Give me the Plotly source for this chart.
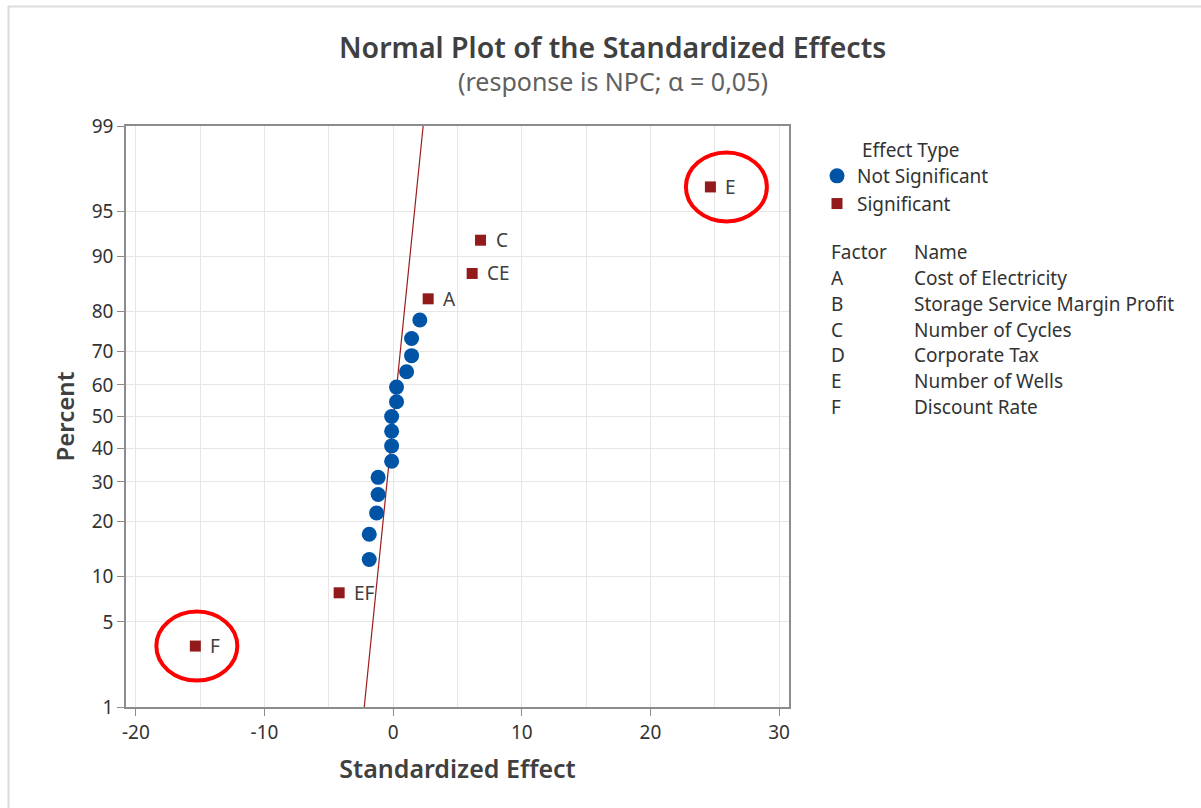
import plotly.graph_objects as go
from statistics import NormalDist

# ---- data ----
ns_effect = [-1.86, -1.86, -1.29, -1.17, -1.17, -0.12, -0.12, -0.12, -0.12,
             0.26, 0.26, 1.04, 1.43, 1.43, 2.07]
ns_percent = [12.6, 17.3, 22.0, 26.6, 31.3, 36.0, 40.7, 45.3, 50.0,
              54.7, 59.3, 64.0, 68.7, 73.4, 78.0]

sig_label = ["F", "EF", "A", "CE", "C", "E"]
sig_effect = [-15.38, -4.20, 2.72, 6.14, 6.79, 24.66]
sig_percent = [3.3, 7.9, 82.7, 87.4, 92.1, 96.7]

fit_effect = [-2.25, 2.33]
fit_percent = [1, 99]

y_ticks = [1, 5, 10, 20, 30, 40, 50, 60, 70, 80, 90, 95, 99]
x_ticks = [-20, -10, 0, 10, 20, 30]

factor_codes = ["A", "B", "C", "D", "E", "F"]
factor_names = ["Cost of Electricity", "Storage Service Margin Profit",
                "Number of Cycles", "Corporate Tax", "Number of Wells",
                "Discount Rate"]
circled = ["F", "E"]

nd = NormalDist()
def z(p):
    return nd.inv_cdf(p / 100.0)

FONT = "Noto Sans"
BLUE = "#0054a6"
RED = "#931a1a"
TXT = "#333333"
FS = 19

fig = go.Figure()
fig.add_trace(go.Scatter(
    x=fit_effect, y=[z(p) for p in fit_percent], mode="lines",
    line=dict(color="#9b1c1c", width=1.2), showlegend=False, hoverinfo="skip"))
fig.add_trace(go.Scatter(
    x=ns_effect, y=[z(p) for p in ns_percent], mode="markers",
    marker=dict(symbol="circle", size=15, color=BLUE),
    name="Not Significant", legendgroup="a"))
fig.add_trace(go.Scatter(
    x=sig_effect, y=[z(p) for p in sig_percent], mode="markers",
    marker=dict(symbol="square", size=11, color=RED),
    name="Significant", legendgroup="b"))

annotations = []
for lab, xv, pv in zip(sig_label, sig_effect, sig_percent):
    annotations.append(dict(x=xv, y=z(pv), xref="x", yref="y", text=lab,
                            showarrow=False, xanchor="left", yanchor="middle",
                            xshift=13, font=dict(family=FONT, size=FS, color="#404040")))

shapes = []
for lab in circled:
    i = sig_label.index(lab)
    xv, yv = sig_effect[i], z(sig_percent[i])
    dx = 16 if lab == "E" else 1.5
    shapes.append(dict(type="circle", xref="x", yref="y", xsizemode="pixel",
                       ysizemode="pixel", xanchor=xv, yanchor=yv,
                       x0=dx - 40.5, x1=dx + 40.5, y0=-34.5, y1=34.5,
                       line=dict(color="#ff0000", width=4)))

# pixel helpers for paper-positioned text
L, R, T, B = 126, 412, 126, 101
W, H = 1201, 808
pw, ph = W - L - R, H - T - B
def px(x):
    return (x - L) / pw
def py(y):
    return (H - B - y) / ph

annotations.append(dict(x=px(612), y=py(47), xref="paper", yref="paper",
                        text="Normal Plot of the Standardized Effects", showarrow=False,
                        xanchor="center", yanchor="middle",
                        font=dict(family=FONT, size=28.5, weight=600, color="#404040")))
annotations.append(dict(x=px(613), y=py(81), xref="paper", yref="paper",
                        text="(response is NPC; α = 0,05)", showarrow=False,
                        xanchor="center", yanchor="middle",
                        font=dict(family=FONT, size=25, color="#606060")))
annotations.append(dict(x=px(860), y=py(150), xref="paper", yref="paper",
                        text="Effect Type", showarrow=False, xanchor="left",
                        yanchor="middle", font=dict(family=FONT, size=FS, color=TXT)))
annotations.append(dict(x=px(829), y=py(252), xref="paper", yref="paper",
                        text="Factor", showarrow=False, xanchor="left",
                        yanchor="middle", font=dict(family=FONT, size=FS, color=TXT)))
annotations.append(dict(x=px(912), y=py(252), xref="paper", yref="paper",
                        text="Name", showarrow=False, xanchor="left",
                        yanchor="middle", font=dict(family=FONT, size=FS, color=TXT)))
for k, (c, n) in enumerate(zip(factor_codes, factor_names)):
    yy = 278 + k * 25.8
    annotations.append(dict(x=px(829), y=py(yy), xref="paper", yref="paper",
                            text=c, showarrow=False, xanchor="left", yanchor="middle",
                            font=dict(family=FONT, size=FS, color=TXT)))
    annotations.append(dict(x=px(912), y=py(yy), xref="paper", yref="paper",
                            text=n, showarrow=False, xanchor="left", yanchor="middle",
                            font=dict(family=FONT, size=FS, color=TXT)))

# outer faint frame of the picture
shapes.append(dict(type="line", xref="paper", yref="paper", x0=px(8), x1=px(1201),
                   y0=py(6.5), y1=py(6.5), line=dict(color="#dcdcdc", width=2)))
shapes.append(dict(type="line", xref="paper", yref="paper", x0=px(8.5), x1=px(8.5),
                   y0=py(6), y1=py(808), line=dict(color="#dcdcdc", width=2)))

fig.update_layout(
    width=W, height=H,
    margin=dict(l=L, r=R, t=T, b=B),
    paper_bgcolor="white", plot_bgcolor="white",
    font=dict(family=FONT, size=FS, color=TXT),
    annotations=annotations, shapes=shapes,
    legend=dict(x=px(817), y=py(157), xanchor="left", yanchor="top",
                font=dict(family=FONT, size=FS, color=TXT),
                tracegroupgap=0, bgcolor="rgba(0,0,0,0)"),
)
fig.update_xaxes(
    range=[-20.77, 30.77], tickvals=x_ticks, ticktext=[str(v) for v in x_ticks],
    showgrid=True, gridcolor="#e6e6e6", gridwidth=1,
    minor=dict(dtick=5, tick0=0, showgrid=True, gridcolor="#e6e6e6", ticks=""),
    showline=True, linecolor="#8c8c8c", linewidth=1.5, mirror=True,
    ticks="outside", ticklen=7, tickcolor="#8c8c8c", zeroline=False,
    tickfont=dict(family=FONT, size=FS, color=TXT),
    title=dict(text="Standardized Effect", standoff=17,
               font=dict(family=FONT, size=25, weight=600, color="#404040")),
)
fig.update_yaxes(
    range=[z(1), z(99)], tickvals=[z(p) for p in y_ticks],
    ticktext=[str(p) for p in y_ticks],
    showgrid=True, gridcolor="#e6e6e6", gridwidth=1,
    showline=True, linecolor="#8c8c8c", linewidth=1.5, mirror=True,
    ticks="outside", ticklen=7, tickcolor="#8c8c8c", zeroline=False,
    tickfont=dict(family=FONT, size=FS, color=TXT),
    title=dict(text="Percent", standoff=10,
               font=dict(family=FONT, size=24, weight=600, color="#404040")),
)

fig.write_html("out.html", config={"displayModeBar": False},
               post_script="document.body.style.margin='0';")
